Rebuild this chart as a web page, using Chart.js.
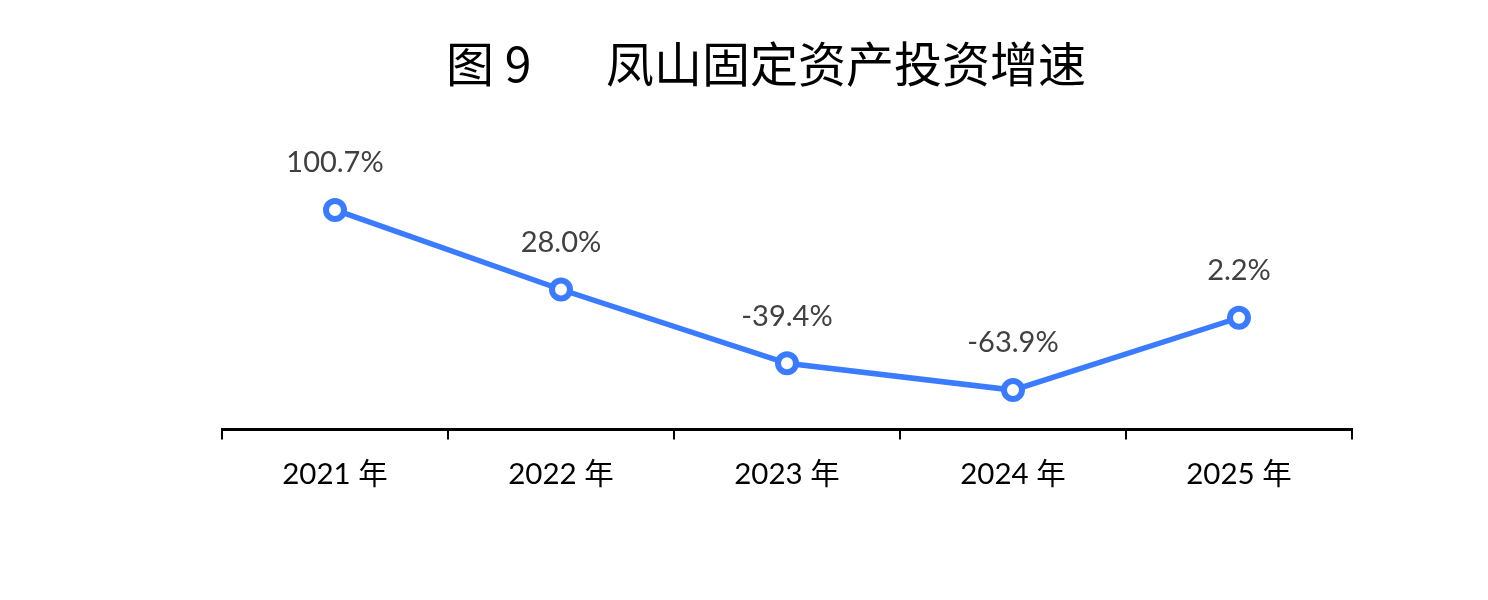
<!DOCTYPE html>
<html>
<head>
<meta charset="utf-8">
<script src="https://cdn.jsdelivr.net/npm/chart.js@4"></script>
<style>
  html, body { margin: 0; padding: 0; background: #fff; }
  #wrap { position: relative; width: 1488px; height: 600px; }
  .title {
    position: absolute; top: 28px;
    font-family: "Noto Sans CJK SC", sans-serif; font-size: 48px; line-height: 66px;
    color: #000; white-space: pre;
  }
  canvas { position: absolute; left: 0; top: 0; }
</style>
</head>
<body>
<div id="wrap">
  <canvas id="chart" width="1488" height="600"></canvas>
  <div class="title" style="left:446px">图 9</div>
  <div class="title" style="left:606px">凤山固定资产投资增速</div>
</div>
<script>
// data
const years = ["2021 年", "2022 年", "2023 年", "2024 年", "2025 年"];
const growth = [100.7, 28.0, -39.4, -63.9, 2.2];

const lineBlue = "#3b7bff";
const labelFont = "Lato, 'Noto Sans CJK SC', sans-serif";

// value labels above each point
const pointLabels = {
  id: "pointLabels",
  afterDatasetsDraw(chart) {
    const ctx = chart.ctx;
    const meta = chart.getDatasetMeta(0);
    ctx.save();
    ctx.font = "29px " + labelFont;
    ctx.fillStyle = "#404040";
    ctx.textAlign = "center";
    ctx.textBaseline = "middle";
    meta.data.forEach((pt, i) => {
      ctx.fillText(growth[i].toFixed(1) + "%", pt.x, pt.y - 47);
    });
    ctx.restore();
  }
};

new Chart(document.getElementById("chart"), {
  type: "line",
  data: {
    labels: years,
    datasets: [{
      data: growth,
      borderColor: lineBlue,
      borderWidth: 5.5,
      pointBackgroundColor: "#fff",
      pointBorderColor: lineBlue,
      pointBorderWidth: 6,
      pointRadius: 9,
      tension: 0
    }]
  },
  options: {
    responsive: false,
    animation: false,
    layout: { padding: { left: 222, right: 136, top: 156, bottom: 91 } },
    plugins: { legend: { display: false }, tooltip: { enabled: false } },
    scales: {
      x: {
        offset: true,
        border: { display: true, color: "#000", width: 3 },
        grid: {
          offset: true,
          drawOnChartArea: false,
          drawTicks: true,
          tickLength: 10,
          color: "#000",
          lineWidth: 2
        },
        ticks: {
          color: "#000",
          font: { family: labelFont, size: 29.5 },
          padding: 17,
          maxRotation: 0
        }
      },
      y: {
        display: false,
        min: -100,
        max: 150
      }
    }
  },
  plugins: [pointLabels]
});
</script>
</body>
</html>
